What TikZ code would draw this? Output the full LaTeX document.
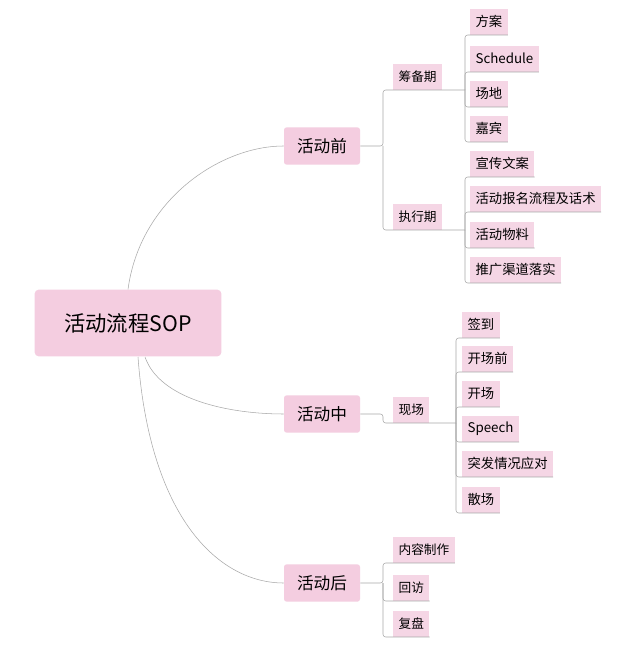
\documentclass[tikz,border=0pt]{standalone}
\usepackage{fontspec}
\setmainfont{Noto Sans CJK SC}
\usepackage{tikz}
\usetikzlibrary{positioning}
\definecolor{boxpink}{HTML}{F4CDE0}
\definecolor{leafpink}{HTML}{F5D6E5}
\definecolor{linegray}{HTML}{A8A8A8}

\begin{document}
\begin{tikzpicture}[x=0.75pt,y=-0.75pt]
            \tikzstyle{root}=[rectangle, rounded corners=3pt, fill=boxpink, minimum width=140pt, minimum height=50pt, font=\fontsize{16}{18}\selectfont]
            \tikzstyle{main}=[rectangle, rounded corners=2pt, fill=boxpink, minimum width=57pt, minimum height=28pt, font=\fontsize{12.5}{14}\selectfont]
            \tikzstyle{phase}=[rectangle, fill=leafpink, inner xsep=4pt, minimum height=19pt, font=\fontsize{9.5}{11}\selectfont]
            \tikzstyle{leaf}=[rectangle, fill=leafpink, inner xsep=4pt, minimum height=19.5pt, font=\fontsize{10}{12}\selectfont]
            \tikzstyle{connect}=[thin, draw=linegray, rounded corners=2pt]
            \useasboundingbox (0,0) rectangle (640,652);
            \fill[white] (0,0) rectangle (640,652);

            \node[root] (R) at (128,323){活动流程SOP};
            \node[main] (M1) at (322,146){活动前};
            \node[main] (M2) at (322,414){活动中};
            \node[main] (M3) at (322,583){活动后};

            \node[phase, anchor=south west] (P1) at (393,90){筹备期};
            \node[phase, anchor=south west] (P2) at (393,230){执行期};
            \node[phase, anchor=south west] (P3) at (393,423){现场};
            \node[phase, anchor=south west] (P4) at (393,563){内容制作};
            \node[phase, anchor=south west] (P5) at (393,601){回访};
            \node[phase, anchor=south west] (P6) at (393,637){复盘};

            \node[leaf, anchor=south west] (L1) at (470,35){方案};
            \node[leaf, anchor=south west] (L2) at (470,72){Schedule};
            \node[leaf, anchor=south west] (L3) at (470,107){场地};
            \node[leaf, anchor=south west] (L4) at (470,142){嘉宾};
            \node[leaf, anchor=south west] (L5) at (470,177){宣传文案};
            \node[leaf, anchor=south west] (L6) at (470,212){活动报名流程及话术};
            \node[leaf, anchor=south west] (L7) at (470,248){活动物料};
            \node[leaf, anchor=south west] (L8) at (470,283){推广渠道落实};
            \node[leaf, anchor=south west] (L9) at (462,338){签到};
            \node[leaf, anchor=south west] (L10) at (462,372){开场前};
            \node[leaf, anchor=south west] (L11) at (462,407){开场};
            \node[leaf, anchor=south west] (L12) at (462,442){Speech};
            \node[leaf, anchor=south west] (L13) at (462,477){突发情况应对};
            \node[leaf, anchor=south west] (L14) at (462,513){散场};

            \coordinate (B1) at (465,90);
            \coordinate (B2) at (465,230);
            \coordinate (B3) at (456,423);
            \coordinate (A1) at (383,146);
            \coordinate (A2) at (383,414);
            \coordinate (A3) at (383,583);

            \draw[connect] (R.north) .. controls (140,200) and (220,146) .. (M1.west);
            \draw[connect] (145,357) .. controls (160,400) and (230,414) .. (M2.west);
            \draw[connect] (138,357) .. controls (150,520) and (220,583) .. (M3.west);

            \draw[connect] (M1.east) -- (A1) |- (P1.south east) -- (B1);
            \draw[connect] (A1) |- (P2.south east) -- (B2);
            \draw[connect] (M2.east) -- (A2) |- (P3.south east) -- (B3);
            \draw[connect] (M3.east) -- (A3) |- (P4.south east);
            \draw[connect] (A3) |- (P5.south east);
            \draw[connect] (A3) |- (P6.south east);

            \foreach \l in {L1,L2,L3,L4} \draw[connect] (B1) |- (\l.south east);
            \foreach \l in {L5,L6,L7,L8} \draw[connect] (B2) |- (\l.south east);
            \foreach \l in {L9,L10,L11,L12,L13,L14} \draw[connect] (B3) |- (\l.south east);

        \end{tikzpicture}
\end{document}
